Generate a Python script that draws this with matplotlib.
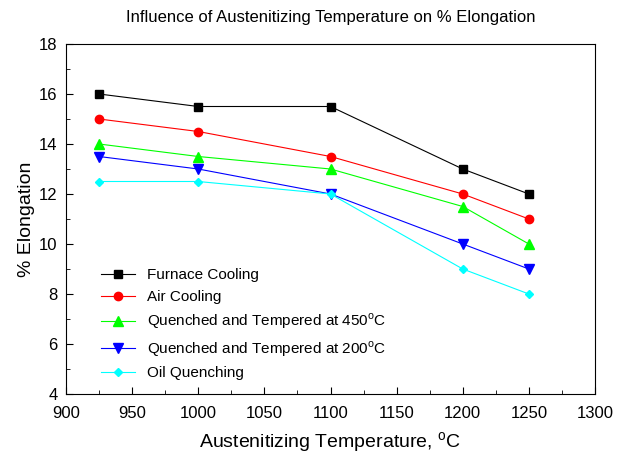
import matplotlib
matplotlib.use('Agg')
import matplotlib.pyplot as plt
from matplotlib.ticker import MultipleLocator

plt.rcParams['font.family'] = 'Liberation Sans'
plt.rcParams['mathtext.fontset'] = 'custom'
plt.rcParams['mathtext.rm'] = 'Liberation Sans'

# Data
temps = [925, 1000, 1100, 1200, 1250]
furnace = [16, 15.5, 15.5, 13, 12]
air = [15, 14.5, 13.5, 12, 11]
qt450 = [14, 13.5, 13, 11.5, 10]
qt200 = [13.5, 13, 12, 10, 9]
oil = [12.5, 12.5, 12, 9, 8]

labels = ['Furnace Cooling', 'Air Cooling',
          r'Quenched and Tempered at 450$^{\rm o}$C',
          r'Quenched and Tempered at 200$^{\rm o}$C',
          'Oil Quenching']

fig = plt.figure(figsize=(6.25, 4.55), dpi=100)
ax = fig.add_axes([66/625, 1 - 394/455, 529/625, 350/455])

ax.plot(temps, furnace, color='black', marker='s', lw=0.8, ms=5.5, label=labels[0])
ax.plot(temps, air, color='red', marker='o', lw=0.8, ms=6, label=labels[1])
ax.plot(temps, qt450, color='#00ff00', marker='^', lw=0.8, ms=6.5, label=labels[2])
ax.plot(temps, qt200, color='blue', marker='v', lw=0.8, ms=6.5, label=labels[3])
ax.plot(temps, oil, color='cyan', marker='D', lw=0.8, ms=4.5, label=labels[4])

ax.set_xlim(900, 1300)
ax.set_ylim(4, 18)
ax.xaxis.set_major_locator(MultipleLocator(50))
ax.xaxis.set_minor_locator(MultipleLocator(25))
ax.yaxis.set_major_locator(MultipleLocator(2))
ax.yaxis.set_minor_locator(MultipleLocator(1))
ax.tick_params(which='both', direction='in', top=False, right=False, labelsize=12)
ax.tick_params(which='major', length=5)
ax.tick_params(which='minor', length=3)
ax.tick_params(axis='x', pad=9)
ax.tick_params(axis='y', pad=6)

ax.set_title('Influence of Austenitizing Temperature on % Elongation', fontsize=12, pad=16)
ax.set_xlabel(r'Austenitizing Temperature, $^{\rm o}$C', fontsize=14, labelpad=6)
ax.set_ylabel('% Elongation', fontsize=14, labelpad=3)

ax.legend(loc='lower left', bbox_to_anchor=(0.04, 0.0), frameon=False, fontsize=11,
          handlelength=2.2, labelspacing=0.5)

fig.savefig('out.png', dpi=100)
